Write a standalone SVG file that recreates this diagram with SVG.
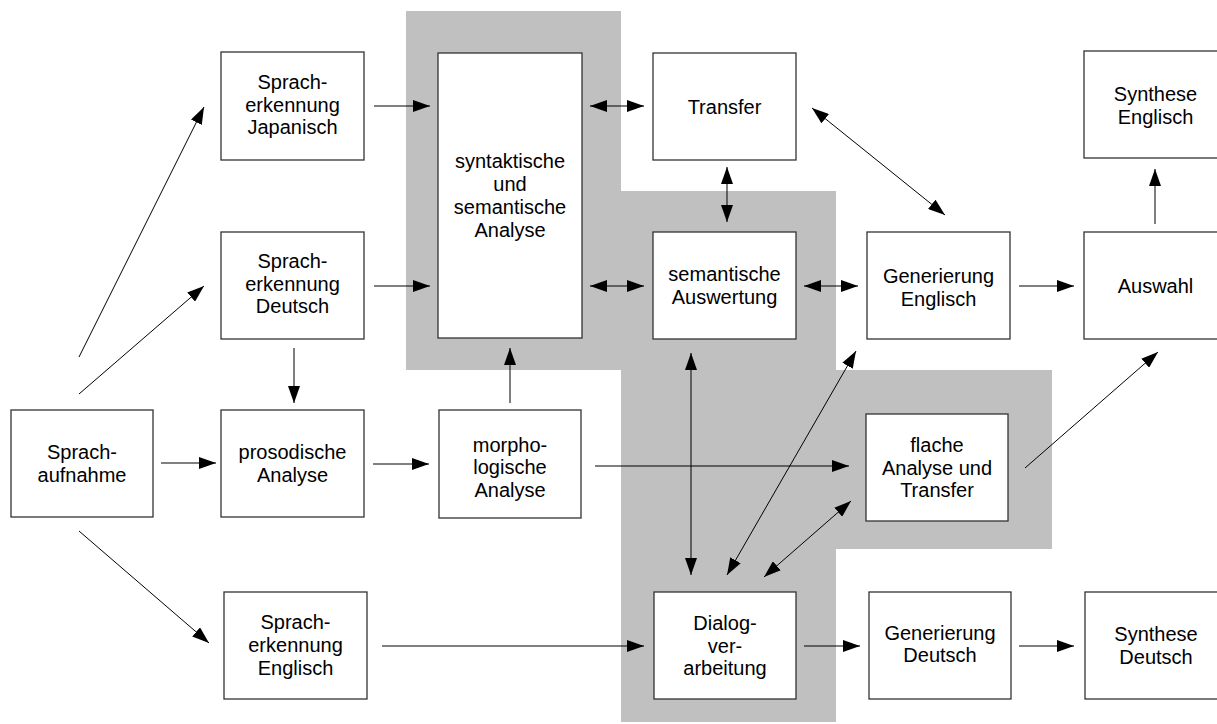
<svg xmlns="http://www.w3.org/2000/svg" width="1217" height="724" viewBox="0 0 1217 724">
<style>
.box{fill:#fff;stroke:#333;stroke-width:1.3}
.t{font-family:"Liberation Sans",Arial,sans-serif;font-size:20px;fill:#000;text-anchor:middle}
.c{stroke:#000;stroke-width:1;fill:none}
.a{marker-end:url(#ah)}
.b{marker-start:url(#ah);marker-end:url(#ah)}
</style>
<defs>
<marker id="ah" markerUnits="userSpaceOnUse" markerWidth="17" markerHeight="12" refX="17" refY="6" orient="auto-start-reverse">
<path d="M0,0 L17,6 L0,12 Z" fill="#000"/>
</marker>
</defs>
<rect width="1217" height="724" fill="#fff"/>
<path id="shade" d="M406,11 H621 V191 H836 V370 H1052 V549 H836 V722 H621 V370 H406 Z" fill="#c0c0c0"/>

<g id="connectors">
<line class="c a" x1="79" y1="357" x2="204" y2="107"/>
<line class="c a" x1="79" y1="394" x2="204" y2="286"/>
<line class="c a" x1="161" y1="463" x2="216" y2="463"/>
<line class="c a" x1="79" y1="531" x2="209" y2="643"/>
<line class="c a" x1="294" y1="348" x2="294" y2="403"/>
<line class="c a" x1="373" y1="464" x2="429" y2="464"/>
<line class="c a" x1="510" y1="403" x2="510" y2="348"/>
<line class="c a" x1="374" y1="106" x2="430" y2="106"/>
<line class="c a" x1="374" y1="286" x2="430" y2="286"/>
<line class="c b" x1="590" y1="106" x2="644" y2="106"/>
<line class="c b" x1="590" y1="286" x2="644" y2="286"/>
<line class="c b" x1="727" y1="167" x2="727" y2="222"/>
<line class="c b" x1="812" y1="108" x2="945" y2="215"/>
<line class="c b" x1="804" y1="286" x2="858" y2="286"/>
<line class="c a" x1="1019" y1="286" x2="1074" y2="286"/>
<line class="c a" x1="1155" y1="224" x2="1155" y2="169"/>
<line class="c b" x1="691" y1="353" x2="691" y2="575"/>
<line class="c b" x1="856" y1="351" x2="727" y2="575"/>
<line class="c b" x1="851" y1="501" x2="764" y2="577"/>
<line class="c a" x1="595" y1="466" x2="849" y2="466"/>
<line class="c a" x1="1025" y1="468" x2="1158" y2="352"/>
<line class="c a" x1="382" y1="646" x2="644" y2="646"/>
<line class="c a" x1="804" y1="646" x2="860" y2="646"/>
<line class="c a" x1="1019" y1="646" x2="1074" y2="646"/>
</g>

<g id="sprachaufnahme"><rect class="box" x="11" y="410" width="142" height="107"/>
<text class="t"><tspan x="82" y="459">Sprach-</tspan><tspan x="82" y="481.5">aufnahme</tspan></text></g>

<g id="spracherkennung-japanisch"><rect class="box" x="221" y="52" width="143" height="108"/>
<text class="t"><tspan x="292.5" y="89">Sprach-</tspan><tspan x="292.5" y="111.5">erkennung</tspan><tspan x="292.5" y="134">Japanisch</tspan></text></g>

<g id="spracherkennung-deutsch"><rect class="box" x="221" y="232" width="143" height="107"/>
<text class="t"><tspan x="292.5" y="268">Sprach-</tspan><tspan x="292.5" y="290.5">erkennung</tspan><tspan x="292.5" y="313">Deutsch</tspan></text></g>

<g id="spracherkennung-englisch"><rect class="box" x="224" y="592" width="143" height="107"/>
<text class="t"><tspan x="295.5" y="628.5">Sprach-</tspan><tspan x="295.5" y="651.5">erkennung</tspan><tspan x="295.5" y="674.5">Englisch</tspan></text></g>

<g id="prosodische-analyse"><rect class="box" x="221" y="410" width="143" height="107"/>
<text class="t"><tspan x="292.5" y="459">prosodische</tspan><tspan x="292.5" y="482">Analyse</tspan></text></g>

<g id="morphologische-analyse"><rect class="box" x="439" y="410" width="142" height="108"/>
<text class="t"><tspan x="510" y="451.5">morpho-</tspan><tspan x="510" y="474">logische</tspan><tspan x="510" y="496.5">Analyse</tspan></text></g>

<g id="syntaktische-analyse"><rect class="box" x="438" y="53" width="144" height="285"/>
<text class="t"><tspan x="510" y="167.5">syntaktische</tspan><tspan x="510" y="190.5">und</tspan><tspan x="510" y="214">semantische</tspan><tspan x="510" y="237">Analyse</tspan></text></g>

<g id="transfer"><rect class="box" x="653" y="53" width="143" height="107"/>
<text class="t" x="724.5" y="114">Transfer</text></g>

<g id="semantische-auswertung"><rect class="box" x="653" y="232" width="143" height="107"/>
<text class="t"><tspan x="724.5" y="281">semantische</tspan><tspan x="724.5" y="304">Auswertung</tspan></text></g>

<g id="generierung-englisch"><rect class="box" x="867" y="232" width="143" height="107"/>
<text class="t"><tspan x="938.5" y="283">Generierung</tspan><tspan x="938.5" y="306">Englisch</tspan></text></g>

<g id="auswahl"><rect class="box" x="1084" y="232" width="143" height="107"/>
<text class="t" x="1155.5" y="293">Auswahl</text></g>

<g id="synthese-englisch"><rect class="box" x="1084" y="51" width="143" height="107"/>
<text class="t"><tspan x="1155.5" y="101">Synthese</tspan><tspan x="1155.5" y="123.5">Englisch</tspan></text></g>

<g id="flache-analyse"><rect class="box" x="866" y="414" width="142" height="107"/>
<text class="t"><tspan x="937" y="451.5">flache</tspan><tspan x="937" y="474.5">Analyse und</tspan><tspan x="937" y="497">Transfer</tspan></text></g>

<g id="dialogverarbeitung"><rect class="box" x="654" y="592" width="142" height="107"/>
<text class="t"><tspan x="725" y="629.5">Dialog-</tspan><tspan x="725" y="652.5">ver-</tspan><tspan x="725" y="675">arbeitung</tspan></text></g>

<g id="generierung-deutsch"><rect class="box" x="869" y="592" width="142" height="107"/>
<text class="t"><tspan x="940" y="639.5">Generierung</tspan><tspan x="940" y="662">Deutsch</tspan></text></g>

<g id="synthese-deutsch"><rect class="box" x="1085" y="592" width="143" height="107"/>
<text class="t"><tspan x="1156" y="641">Synthese</tspan><tspan x="1156" y="663.5">Deutsch</tspan></text></g>
</svg>
